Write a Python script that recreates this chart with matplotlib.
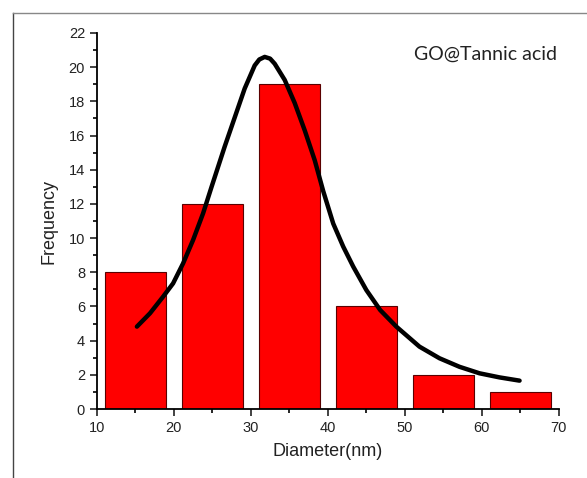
import matplotlib
matplotlib.use("Agg")
import matplotlib.pyplot as plt
from matplotlib.lines import Line2D
from matplotlib.ticker import MultipleLocator

# histogram bins (centers) and counts
centers = [15, 25, 35, 45, 55, 65]
counts = [8, 12, 19, 6, 2, 1]

# fitted curve
fit_x = [15.2, 16.9, 18.6, 19.9, 21.2, 22.5, 23.8, 24.9, 26.6, 27.9, 29.2, 30.5, 31.1,
         31.8, 32.5, 33.1, 34.4, 35.7, 37.0, 38.3, 39.4, 40.7, 42.0, 43.3, 45.0, 46.8,
         48.9, 51.9, 54.5, 57.1, 59.7, 62.3, 64.9]
fit_y = [4.82, 5.6, 6.57, 7.35, 8.52, 9.89, 11.45, 13.0, 15.35, 17.05, 18.75, 20.1, 20.45,
         20.6, 20.5, 20.2, 19.25, 17.9, 16.3, 14.55, 12.75, 10.85, 9.5, 8.33, 6.96, 5.79,
         4.82, 3.65, 2.97, 2.47, 2.09, 1.85, 1.66]

plt.rcParams['font.family'] = ['Liberation Sans', 'DejaVu Sans']

fig = plt.figure(figsize=(5.87, 4.78), dpi=100)
ax = fig.add_axes([0.165, 0.1443, 0.952 - 0.165, 0.931 - 0.1443])

ax.bar(centers, counts, width=8, color='#ff0000', edgecolor='#5a0000', linewidth=0.8, zorder=2)
ax.plot(fit_x, fit_y, color='black', linewidth=3.2, solid_capstyle='round',
        solid_joinstyle='round', zorder=3)

ax.set_xlim(10, 70)
ax.set_ylim(0, 22)
ax.xaxis.set_major_locator(MultipleLocator(10))
ax.xaxis.set_minor_locator(MultipleLocator(5))
ax.yaxis.set_major_locator(MultipleLocator(2))
ax.yaxis.set_minor_locator(MultipleLocator(1))
ax.tick_params(which='major', direction='out', length=5, width=1.2, labelsize=10.5, colors='#222222')
ax.tick_params(which='minor', direction='out', length=3, width=1.2)
for s in ['top', 'right']:
    ax.spines[s].set_visible(False)
for s in ['left', 'bottom']:
    ax.spines[s].set_linewidth(1.3)

ax.set_xlabel('Diameter(nm)', fontsize=13, color='#222222', labelpad=6)
ax.set_ylabel('Frequency', fontsize=13, color='#222222', labelpad=8)

ax.text(0.995, 0.965, 'GO@Tannic acid', transform=ax.transAxes, ha='right', va='top',
        fontsize=14, family=['Lato', 'DejaVu Sans'], color='#222222')

# outer frame of the original figure
fig.add_artist(Line2D([12.7 / 587, 12.7 / 587], [0, 1 - 13 / 478], color='#444444', linewidth=1))
fig.add_artist(Line2D([12.7 / 587, 1], [1 - 13 / 478, 1 - 13 / 478], color='#888888', linewidth=1))

fig.savefig('out.png', dpi=100)
